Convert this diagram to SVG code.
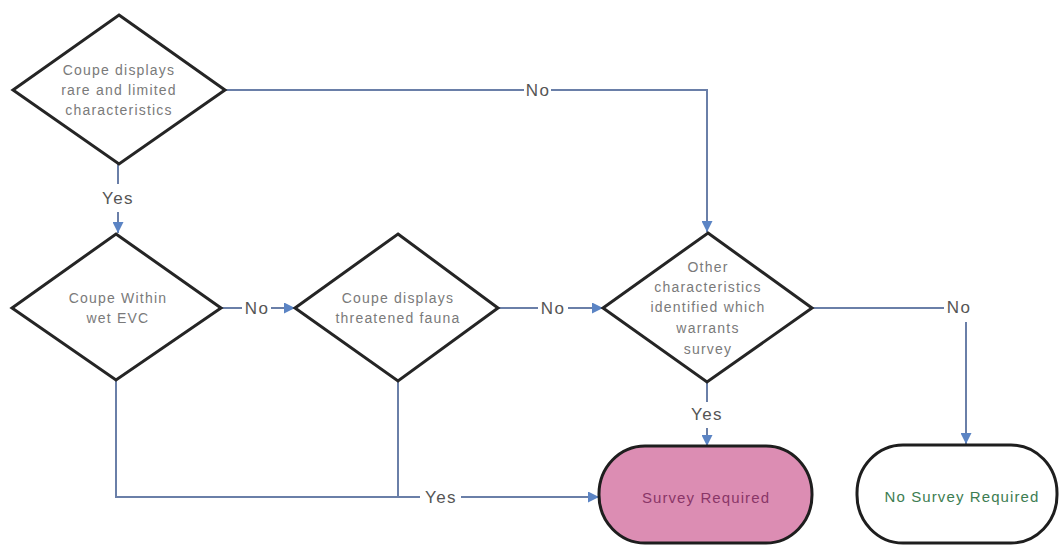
<svg xmlns="http://www.w3.org/2000/svg" width="1061" height="545" viewBox="0 0 1061 545">
<style>
.dia{fill:#fff;stroke:#252525;stroke-width:3;stroke-linejoin:miter}
.dt{font-family:"Liberation Sans",Arial,sans-serif;font-size:14px;fill:#7a7a7a;text-anchor:middle;letter-spacing:1.2px}
.lbl{font-family:"Liberation Sans",Arial,sans-serif;font-size:17px;fill:#555;text-anchor:middle;dominant-baseline:central;letter-spacing:1.5px}
.con{fill:none;stroke:#6a7fa8;stroke-width:2}
.term{stroke:#1e1e1e;stroke-width:3}
.tt{font-family:"Liberation Sans",Arial,sans-serif;font-size:15px;text-anchor:middle;dominant-baseline:central;letter-spacing:1.1px}
</style>
<defs>
<marker id="arr" viewBox="0 0 10 10" refX="10" refY="5" markerWidth="11" markerHeight="11" markerUnits="userSpaceOnUse" orient="auto">
<path d="M0,0 L10,5 L0,10 z" fill="#5b84c4"/>
</marker>
</defs>
<rect width="1061" height="545" fill="#fff"/>

<g id="connectors">
<line class="con" x1="224" y1="90" x2="524" y2="90"/>
<polyline class="con" points="551,90 707,90 707,232" marker-end="url(#arr)"/>
<line class="con" x1="118" y1="164" x2="118" y2="184"/>
<line class="con" x1="118" y1="212" x2="118" y2="233" marker-end="url(#arr)"/>
<line class="con" x1="221" y1="308" x2="242" y2="308"/>
<line class="con" x1="271" y1="308" x2="295" y2="308" marker-end="url(#arr)"/>
<line class="con" x1="498" y1="308" x2="538" y2="308"/>
<line class="con" x1="568" y1="308" x2="603" y2="308" marker-end="url(#arr)"/>
<line class="con" x1="812" y1="308" x2="944" y2="308"/>
<line class="con" x1="966" y1="322" x2="966" y2="444" marker-end="url(#arr)"/>
<line class="con" x1="707" y1="382" x2="707" y2="402"/>
<line class="con" x1="707" y1="428" x2="707" y2="446" marker-end="url(#arr)"/>
<polyline class="con" points="116,380 116,497 420,497"/>
<line class="con" x1="398" y1="381" x2="398" y2="497"/>
<line class="con" x1="461" y1="497" x2="599" y2="497" marker-end="url(#arr)"/>
<text class="lbl" x="538" y="90">No</text>
<text class="lbl" x="118" y="198">Yes</text>
<text class="lbl" x="257" y="308">No</text>
<text class="lbl" x="553" y="308">No</text>
<text class="lbl" x="959" y="307">No</text>
<text class="lbl" x="707" y="414">Yes</text>
<text class="lbl" x="441" y="497">Yes</text>
</g>

<g id="d1">
<polygon class="dia" points="119,15 225,90 119,164 13,90"/>
<text class="dt" x="119" y="75">Coupe displays</text>
<text class="dt" x="119" y="95">rare and limited</text>
<text class="dt" x="119" y="115">characteristics</text>
</g>

<g id="d2">
<polygon class="dia" points="116,234 221,308 116,380 12,308"/>
<text class="dt" x="118" y="303">Coupe Within</text>
<text class="dt" x="118" y="323">wet EVC</text>
</g>

<g id="d3">
<polygon class="dia" points="398,234 498,308 398,381 295,308"/>
<text class="dt" x="398" y="303">Coupe displays</text>
<text class="dt" x="398" y="323">threatened fauna</text>
</g>

<g id="d4">
<polygon class="dia" points="708,233 812,308 707,382 603,308"/>
<text class="dt" x="708" y="272">Other</text>
<text class="dt" x="708" y="292">characteristics</text>
<text class="dt" x="708" y="312">identified which</text>
<text class="dt" x="708" y="333">warrants</text>
<text class="dt" x="708" y="354">survey</text>
</g>

<g id="survey">
<rect class="term" x="599" y="446" width="213" height="97" rx="46" ry="48" fill="#dc8db3"/>
<text class="tt" x="706" y="497" fill="#8a3668">Survey Required</text>
</g>

<g id="nosurvey">
<rect class="term" x="857" y="445" width="200" height="98" rx="46" ry="48" fill="#fff"/>
<text class="tt" x="962" y="496" fill="#3d7d52">No Survey Required</text>
</g>
</svg>
